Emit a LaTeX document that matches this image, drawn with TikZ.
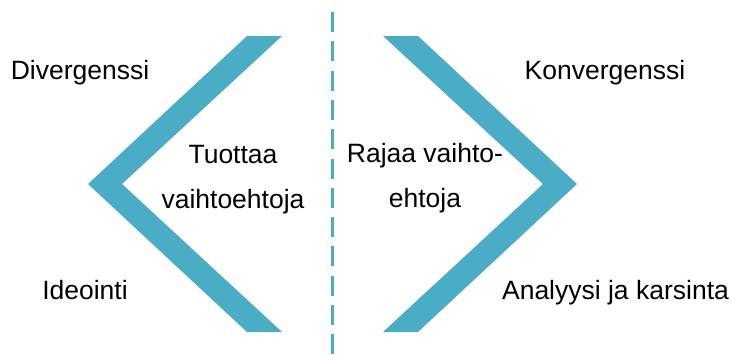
\documentclass[tikz,border=0pt]{standalone}
\usepackage{fontspec}
\setmainfont{Liberation Sans}
\usetikzlibrary{positioning}
\definecolor{aqua}{HTML}{4BACC6}

\begin{document}
\begin{tikzpicture}[
    x=1pt, y=-1pt, % pixel-like units, y grows downwards
    every node/.style={font=\fontsize{26.5}{45}\selectfont, inner sep=0pt},
    chevron/.style={fill=aqua, draw=none},
    divider/.style={draw=aqua, line width=3pt, dash pattern=on 20pt off 9.3pt}
]
    \useasboundingbox (0,0) rectangle (731,354);

    % the two chevrons
    \fill[chevron] (247,36) -- (282,36) -- (122,184) -- (282,332) -- (247,332) -- (88,184) -- cycle;
    \fill[chevron] (383,36) -- (418,36) -- (577,184) -- (418,332) -- (383,332) -- (543,184) -- cycle;

    % the dashed line in between
    \coordinate (top) at (332,12);
    \coordinate (bottom) at (332,354);
    \draw[divider] (top) -- (bottom);

    % Place the nodes (base of a two-line node is its last line)
    \node (div) [anchor=base] at (80,79) {Divergenssi};
    \node (ide) [anchor=base] at (85,299) {Ideointi};
    \node (tuo) [anchor=base, align=center] at (233,208) {Tuottaa\\vaihtoehtoja};
    \node (raj) [anchor=base, align=center] at (425,207) {Rajaa vaihto-\\ehtoja};
    \node (kon) [anchor=base] at (605,79) {Konvergenssi};
    \node (ana) [anchor=base] at (615.5,299) {Analyysi ja karsinta};
\end{tikzpicture}
\end{document}
